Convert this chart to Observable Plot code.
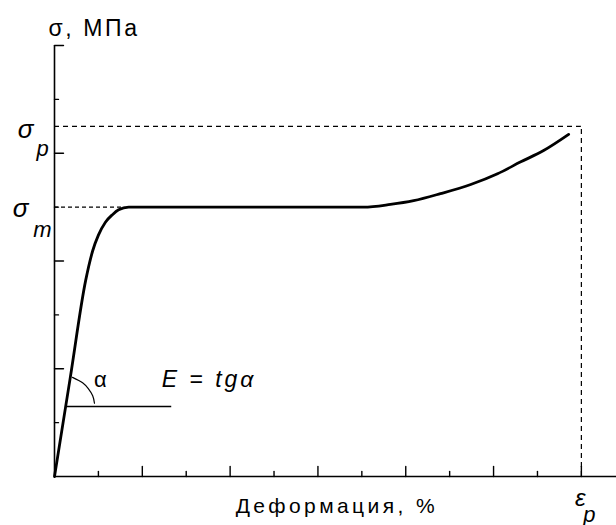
<!DOCTYPE html>
<html><head><meta charset="utf-8">
<script src="https://cdn.jsdelivr.net/npm/d3@7"></script>
<script src="https://cdn.jsdelivr.net/npm/@observablehq/plot@0.6"></script>
<style>body{margin:0;background:#fff} svg{display:block}</style>
</head><body><div id="chart"></div>
<script>
// Stress–strain curve (arbitrary tick units)
const strainX = [0, 0.36, 0.71, 0.87, 1.00, 1.16, 1.32, 1.46, 1.69, 3, 5, 7.04, 7.65, 8.18, 8.79, 9.48, 10.09, 10.62, 11.14, 11.71];
const stressY = [0, 1.84, 3.64, 4.19, 4.48, 4.72, 4.86, 4.95, 5.0, 5.0, 5.0, 5.0, 5.05, 5.12, 5.25, 5.42, 5.62, 5.84, 6.05, 6.35];
// characteristic values
const sigmaP = 6.5;   // σp
const sigmaM = 5.0;   // σm
const epsP = 12;      // εp
// tick positions
const xTicksMajor = [2, 4, 6, 8, 10, 12];
const xTicksMinor = [1, 3, 5, 7, 9, 11];
const yTicksMajor = [2, 4, 6, 8];
const yTicksMinor = [1, 3, 5, 7];
// slope annotation (angle α)
const slopeLineX = [0.27, 2.67];
const slopeLineY = 1.3;
const arcX = [0.41, 0.64, 0.77, 0.87, 0.91];
const arcY = [1.84, 1.74, 1.63, 1.50, 1.36];
// labels
const yLabel = "σ, МПа";
const xLabel = "Деформация, %";
const formula = "E = tgα";

const curveData = strainX.map((x, i) => ({x, y: stressY[i]}));
const arcData = arcX.map((x, i) => ({x, y: arcY[i]}));

const tickShape = {draw(context, l) { context.moveTo(0, 0); context.lineTo(0, -l); }};
const spacing = (px) => (index, scales, values, dims, context, next) => {
  const g = next(index, scales, values, dims, context);
  g.setAttribute("letter-spacing", px + "px");
  return g;
};
const font = "'Liberation Sans', Arial, sans-serif";

const chart = Plot.plot({
  width: 616, height: 525,
  marginLeft: 54, marginRight: 0, marginTop: 45, marginBottom: 49,
  x: {domain: [0, 12.8], axis: null},
  y: {domain: [0, 8], axis: null},
  style: {fontFamily: font, color: "black", background: "white"},
  marks: [
    // axes lines
    Plot.ruleY([0], {stroke: "black", strokeWidth: 1.6}),
    Plot.ruleX([0], {stroke: "black", strokeWidth: 1.6}),
    // ticks (inward)
    Plot.vector(xTicksMajor, {x: d => d, y: 0, length: 10, rotate: 0, anchor: "start", shape: tickShape, stroke: "black", strokeWidth: 1.4}),
    Plot.vector(xTicksMinor, {x: d => d, y: 0, length: 5, rotate: 0, anchor: "start", shape: tickShape, stroke: "black", strokeWidth: 1.4}),
    Plot.vector(yTicksMajor, {x: 0, y: d => d, length: 9, rotate: 90, anchor: "start", shape: tickShape, stroke: "black", strokeWidth: 1.4}),
    Plot.vector(yTicksMinor, {x: 0, y: d => d, length: 4, rotate: 90, anchor: "start", shape: tickShape, stroke: "black", strokeWidth: 1.4}),
    // dashed reference lines
    Plot.ruleY([sigmaP], {x1: 0, x2: epsP, stroke: "black", strokeWidth: 1.2, strokeDasharray: "5,4"}),
    Plot.ruleX([epsP], {y1: 0, y2: sigmaP, stroke: "black", strokeWidth: 1.2, strokeDasharray: "5,4"}),
    Plot.ruleY([sigmaM], {x1: 0, x2: 1.6, stroke: "black", strokeWidth: 1.2, strokeDasharray: "4,3"}),
    // curve
    Plot.line(curveData, {x: "x", y: "y", curve: "monotone-x", stroke: "black", strokeWidth: 2.8}),
    // slope annotation
    Plot.ruleY([slopeLineY], {x1: slopeLineX[0], x2: slopeLineX[1], stroke: "black", strokeWidth: 1.4}),
    Plot.line(arcData, {x: "x", y: "y", curve: "natural", stroke: "black", strokeWidth: 1.2}),
    Plot.text([formula], {x: 2.44, y: slopeLineY, dy: -19, text: d => d, textAnchor: "start", lineAnchor: "bottom", fontSize: 23, fontStyle: "italic", render: spacing(3)}),
    Plot.text(["α"], {x: slopeLineX[0], y: slopeLineY, dx: 34, dy: -19, text: d => d, textAnchor: "middle", lineAnchor: "bottom", fontSize: 22}),
    // axis labels
    Plot.text([yLabel], {x: 0, y: 8, dx: -6, dy: -10, text: d => d, textAnchor: "start", lineAnchor: "bottom", fontSize: 23, render: spacing(2.6)}),
    Plot.text([xLabel], {x: 6.43, y: 0, dy: 36, text: d => d, textAnchor: "middle", lineAnchor: "bottom", fontSize: 21, render: spacing(3.4)}),
    // σp, σm, εp labels
    Plot.text(["σ"], {x: 0, y: sigmaP, dx: -29, dy: 12, text: d => d, textAnchor: "middle", lineAnchor: "bottom", fontSize: 26, fontStyle: "italic"}),
    Plot.text(["p"], {x: 0, y: sigmaP, dx: -12, dy: 30, text: d => d, textAnchor: "middle", lineAnchor: "bottom", fontSize: 22, fontStyle: "italic"}),
    Plot.text(["σ"], {x: 0, y: sigmaM, dx: -34, dy: 10, text: d => d, textAnchor: "middle", lineAnchor: "bottom", fontSize: 26, fontStyle: "italic"}),
    Plot.text(["m"], {x: 0, y: sigmaM, dx: -12, dy: 30, text: d => d, textAnchor: "middle", lineAnchor: "bottom", fontSize: 22, fontStyle: "italic"}),
    Plot.text(["ε"], {x: epsP, y: 0, dx: -1, dy: 29, text: d => d, textAnchor: "middle", lineAnchor: "bottom", fontSize: 24, fontStyle: "italic"}),
    Plot.text(["p"], {x: epsP, y: 0, dx: 8, dy: 45, text: d => d, textAnchor: "middle", lineAnchor: "bottom", fontSize: 22, fontStyle: "italic"})
  ]
});
document.getElementById("chart").appendChild(chart);
</script>
</body></html>
